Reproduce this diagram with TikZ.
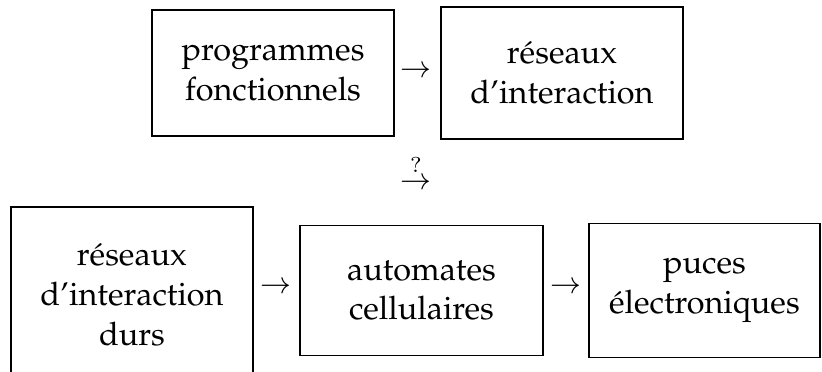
\documentclass[tikz,border=0pt]{standalone}
\usepackage[T1]{fontenc}
\renewcommand{\rmdefault}{ppl}
\usepackage{tikz}

\begin{document}
\begin{tikzpicture}[
stage box/.style={draw,line width=0.4pt,align=center,inner sep=0pt,font=\fontsize{10.5}{12.9}\selectfont},
step arrow/.style={inner sep=0pt,font=\normalsize}]
\useasboundingbox (0,0) rectangle (9.363,-4.226);
\node[stage box,minimum width=2.756cm,minimum height=1.435cm] (prog) at (3.110,-0.831) {programmes\\fonctionnels};
\node[stage box,minimum width=2.756cm,minimum height=1.503cm] (rinter) at (6.401,-0.831) {r\'eseaux\\d'interaction};
\node[stage box,minimum width=2.756cm,minimum height=2.000cm] (rdurs) at (1.503,-3.358) {r\'eseaux\\d'interaction\\durs};
\node[stage box,minimum width=2.768cm,minimum height=1.480cm] (autom) at (4.801,-3.309) {automates\\cellulaires};
\node[stage box,minimum width=2.631cm,minimum height=1.526cm] (puces) at (8.024,-3.309) {puces\\\'electroniques};
\node[step arrow] (a1) at (4.738,-0.815) {$\rightarrow$};
\node[step arrow] (a2) at (4.738,-1.960) {$\stackrel{?}{\rightarrow}$};
\node[step arrow] (a3) at (3.144,-3.275) {$\rightarrow$};
\node[step arrow] (a4) at (6.447,-3.275) {$\rightarrow$};
\end{tikzpicture}
\end{document}
